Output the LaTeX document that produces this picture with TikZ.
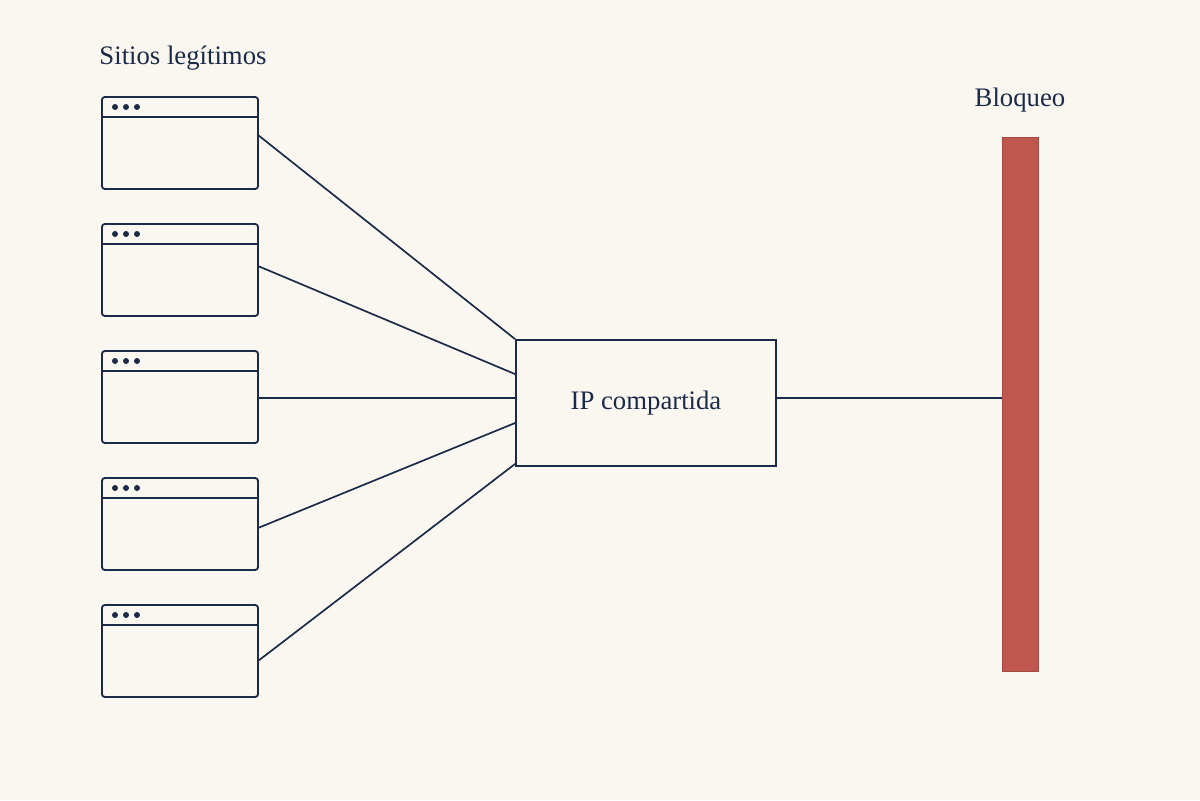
\documentclass[tikz,border=0pt]{standalone}
\usepackage{fontspec}
\setmainfont{Liberation Serif}
\definecolor{bg}{HTML}{FAF7F1}
\definecolor{ink}{HTML}{1B2A47}
\definecolor{block}{HTML}{C0574F}
\begin{document}
\begin{tikzpicture}[x=0.025cm,y=-0.025cm,
  win/.style={draw=ink,line width=1.3pt,rounded corners=2pt},
  conn/.style={draw=ink,line width=1.2pt},
  lbl/.style={text=ink,font=\fontsize{19}{22}\selectfont,inner sep=0pt}]
\fill[bg] (0,0) rectangle (1200,800);
\useasboundingbox (0,0) rectangle (1200,800);
\node[lbl] (title) at (183,58) {Sitios legítimos};
\node[lbl] (blq) at (1020,100) {Bloqueo};
\foreach \i/\y/\py in {1/97/135,2/224/266,3/351/398,4/478/528,5/605/661}{
  \draw[win] (102,\y) rectangle (258,\y+92);
  \draw[ink,line width=1.3pt] (102,\y+20) -- (258,\y+20);
  \foreach \dx in {115,126,137}{\fill[ink] (\dx,\y+10) circle (3);}
  \coordinate (w\i) at (258,\py);
}
\node[draw=ink,line width=1.3pt,minimum width=260*0.025cm,minimum height=126*0.025cm,inner sep=0pt,
  text=ink,font=\fontsize{19}{22}\selectfont] (ip) at (646,403) {IP compartida};
\node[fill=block,draw=block!85!black,line width=0.4pt,minimum width=36*0.025cm,minimum height=534*0.025cm,inner sep=0pt] (bar) at (1020,404) {};
\draw[conn] (w1) -- (ip.north west);
\draw[conn] (w2) -- ([yshift=-35*0.025cm]ip.north west);
\draw[conn] (w3) -- (ip.west |- w3);
\draw[conn] (w4) -- ([yshift=-20*0.025cm]ip.west);
\draw[conn] (w5) -- ([yshift=3*0.025cm]ip.south west);
\draw[conn] (ip.east |- w3) -- (bar.west |- w3);
\end{tikzpicture}
\end{document}
